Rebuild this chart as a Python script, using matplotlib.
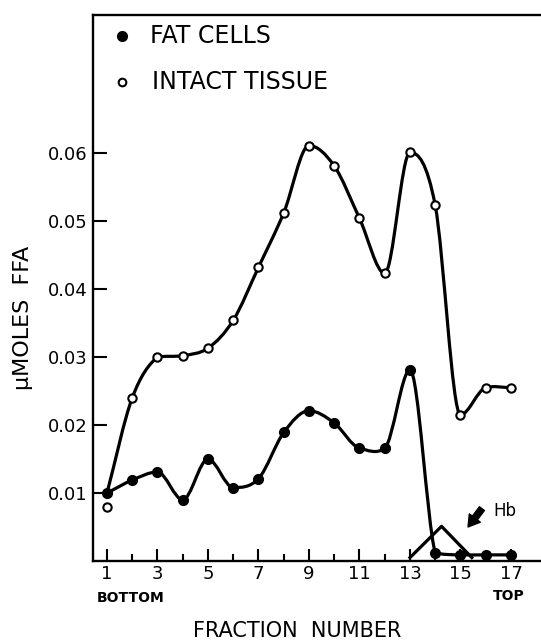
import numpy as np
import matplotlib
matplotlib.use('Agg')
import matplotlib.pyplot as plt
from matplotlib.path import Path
from matplotlib.patches import PathPatch

# ---- data ----
fractions = list(range(1, 18))
fat_cells = [0.0100, 0.0119, 0.0131, 0.0090, 0.0150, 0.0108, 0.0121, 0.0189,
             0.0221, 0.0203, 0.0166, 0.0166, 0.0281, 0.0012, 0.0009, 0.0009, 0.0009]
intact_tissue = [0.0079, 0.0240, 0.0300, 0.0302, 0.0313, 0.0354, 0.0432, 0.0512,
                 0.0611, 0.0581, 0.0504, 0.0423, 0.0601, 0.0523, 0.0215, 0.0255, 0.0255]
intact_line_start = 0.0100   # the drawn curve leaves from the first fat-cell point
hb_x = [13.0, 14.25, 15.45]
hb_y = [0.0005, 0.0051, 0.0005]
x_major = [1, 3, 5, 7, 9, 11, 13, 15, 17]
x_minor = [2, 4, 6, 8, 10, 12, 14, 16]
y_ticks = [0.01, 0.02, 0.03, 0.04, 0.05, 0.06]
y_ticklabels = ['0.01', '0.02', '0.03', '0.04', '0.05', '0.06']


def smooth_path(xs, ys):
    """Hand-drawn-like cubic Bezier path through the points."""
    xs = np.asarray(xs, float)
    ys = np.asarray(ys, float)
    h = np.diff(xs)
    d = np.diff(ys) / h
    n = len(xs)
    m = np.zeros(n)
    for k in range(1, n - 1):
        p = d[k - 1] * d[k]
        if p > 0:
            m[k] = 0.5 * (d[k - 1] + d[k])
        elif p == 0:
            m[k] = 0.25 * (d[k - 1] + d[k])
    m[0] = d[0]
    m[-1] = d[-1]
    verts = [(xs[0], ys[0])]
    codes = [Path.MOVETO]
    for k in range(n - 1):
        lim = 3 * abs(d[k])
        ma, mb = m[k], m[k + 1]
        if d[k] != 0:
            ma = np.clip(ma, -lim, lim)
            mb = np.clip(mb, -lim, lim)
        verts += [(xs[k] + h[k] / 3, ys[k] + ma * h[k] / 3),
                  (xs[k + 1] - h[k] / 3, ys[k + 1] - mb * h[k] / 3),
                  (xs[k + 1], ys[k + 1])]
        codes += [Path.CURVE4] * 3
    return Path(verts, codes)


plt.rcParams['font.family'] = ['DejaVu Sans']
fig = plt.figure(figsize=(5.41, 6.40), dpi=100)
ax = fig.add_axes([93 / 541, 1 - 561 / 640, 448 / 541, 546 / 640])
ax.set_xlim(0.4455, 18.19)
ax.set_ylim(0, 0.0803)

lw = 2.3
# curves
ax.add_patch(PathPatch(smooth_path(fractions, fat_cells), fill=False, lw=lw,
                       ec='black', capstyle='round', joinstyle='round', zorder=3))
intact_curve = [intact_line_start] + intact_tissue[1:]
ax.add_patch(PathPatch(smooth_path(fractions, intact_curve), fill=False, lw=lw,
                       ec='black', capstyle='round', joinstyle='round', zorder=3))
ax.plot(hb_x, hb_y, color='black', lw=lw, solid_joinstyle='round', zorder=3)

# markers
ax.plot(fractions, fat_cells, ls='none', marker='o', ms=7, mfc='black',
        mec='black', zorder=5)
ax.plot(fractions, intact_tissue, ls='none', marker='o', ms=6, mfc='white',
        mec='black', mew=1.5, zorder=5)

# legend (hand lettered style)
ax.plot([0.0647], [0.9615], transform=ax.transAxes, ls='none', marker='o', ms=7,
        mfc='black', mec='black', clip_on=False)
ax.plot([0.0647], [0.877], transform=ax.transAxes, ls='none', marker='o', ms=5.5,
        mfc='white', mec='black', mew=1.5, clip_on=False)
ax.text(0.127, 0.9615, 'FAT CELLS', transform=ax.transAxes, ha='left',
        va='center', fontsize=17)
ax.text(0.131, 0.877, 'INTACT TISSUE', transform=ax.transAxes, ha='left',
        va='center', fontsize=17)

# Hb arrow and label
ax.annotate('', xy=(15.3, 0.0050), xytext=(15.85, 0.0077),
            arrowprops=dict(arrowstyle='simple,head_width=1.1,head_length=0.9,tail_width=0.5',
                            fc='black', ec='black', mutation_scale=9, shrinkA=0, shrinkB=0))
ax.text(16.3, 0.0074, 'Hb', ha='left', va='center', fontsize=12)

# spines and ticks
for s in ['left', 'bottom', 'top']:
    ax.spines[s].set_linewidth(1.7)
ax.spines['right'].set_visible(False)
ax.set_xticks(x_major)
ax.set_xticks(x_minor, minor=True)
ax.set_xticklabels([str(v) for v in x_major])
ax.set_yticks(y_ticks)
ax.set_yticklabels(y_ticklabels)
ax.tick_params(axis='x', which='major', direction='in', length=9, width=1.5,
               labelsize=13, pad=3)
ax.tick_params(axis='x', which='minor', direction='in', length=5, width=1.5)
ax.tick_params(axis='y', which='major', direction='in', length=10, width=1.5,
               labelsize=13, pad=4)
ax.tick_params(axis='y', which='minor', left=False)

# outer labels
fig.text(130.5 / 541, 1 - 598 / 640, 'BOTTOM', ha='center', va='center',
         fontsize=10, fontweight='bold')
fig.text(493 / 541, 1 - 596 / 640, 'TOP', ha='left', va='center',
         fontsize=10, fontweight='bold')
fig.text(297 / 541, 1 - 631 / 640, 'FRACTION  NUMBER', ha='center', va='center',
         fontsize=15)
fig.text(23 / 541, 1 - 318 / 640, 'μMOLES  FFA', ha='center', va='center',
         rotation=90, fontsize=16)

fig.savefig('out.png', dpi=100)
